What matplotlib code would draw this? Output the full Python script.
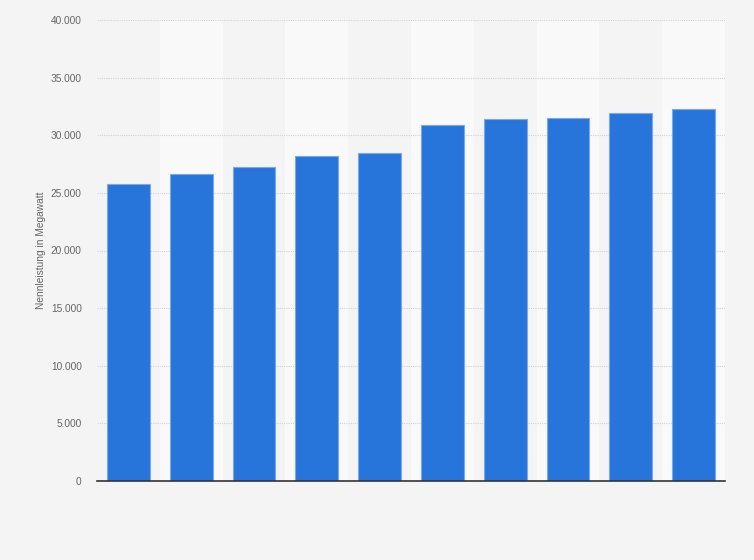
import matplotlib.pyplot as plt
import numpy as np
from matplotlib.ticker import FuncFormatter

# Nennleistung in Megawatt (no year labels in the picture)
slots = np.arange(10)
leistung = [25770, 26640, 27250, 28200, 28430, 30890, 31410, 31500, 31930, 32250]
yticks = [0, 5000, 10000, 15000, 20000, 25000, 30000, 35000, 40000]

plt.rcParams['font.family'] = ['Liberation Sans', 'DejaVu Sans']

fig = plt.figure(figsize=(7.54, 5.6), dpi=100)
fig.patch.set_facecolor('#f4f4f4')
ax = fig.add_axes([97/754, 79/560, 628/754, 461/560])
ax.set_facecolor('#f4f4f4')

# alternating column stripes
for i in slots:
    if i % 2 == 1:
        ax.axvspan(i - 0.5, i + 0.5, color='#f9f9f9', zorder=0, lw=0)

ax.bar(slots, leistung, width=0.68, color='#2775db', edgecolor='#7aa8ea',
       linewidth=0.8, zorder=3)

ax.set_xlim(-0.5, 9.5)
ax.set_ylim(0, 40000)
ax.set_yticks(yticks)
ax.yaxis.set_major_formatter(FuncFormatter(lambda v, p: f'{int(v):,}'.replace(',', '.')))
ax.set_xticks([])
ax.tick_params(axis='y', length=0, pad=11, labelsize=7.3, labelcolor='#666666')
ax.grid(axis='y', color='#d2d2d2', linestyle=(0, (1, 1)), linewidth=0.8, zorder=1)

for s in ['top', 'right', 'left']:
    ax.spines[s].set_visible(False)
ax.spines['bottom'].set_color('#333333')
ax.spines['bottom'].set_linewidth(1.2)
ax.spines['bottom'].set_zorder(4)

ax.set_ylabel('Nennleistung in Megawatt', fontsize=7.3, color='#666666', labelpad=3.5)

fig.savefig('out.png', dpi=100, facecolor=fig.get_facecolor())
